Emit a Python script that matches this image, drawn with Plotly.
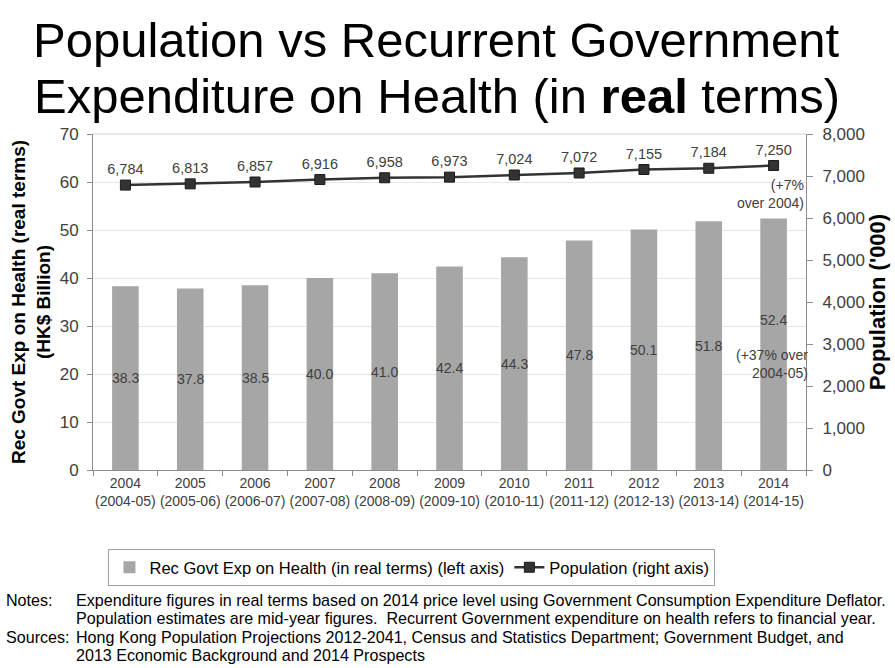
import plotly.graph_objects as go

# Data
years = ["2004", "2005", "2006", "2007", "2008", "2009", "2010", "2011", "2012", "2013", "2014"]
fiscal_years = ["2004-05", "2005-06", "2006-07", "2007-08", "2008-09", "2009-10",
                "2010-11", "2011-12", "2012-13", "2013-14", "2014-15"]
expenditure = [38.3, 37.8, 38.5, 40.0, 41.0, 42.4, 44.3, 47.8, 50.1, 51.8, 52.4]
population = [6784, 6813, 6857, 6916, 6958, 6973, 7024, 7072, 7155, 7184, 7250]

categories = [f"{y}<br>({f})" for y, f in zip(years, fiscal_years)]

W, H = 895, 668
L, R, T, B = 93, 80, 134, 198
PW, PH = W - L - R, H - T - B


def px(x):
    return (x - L) / PW


def py(y):
    return (H - B - y) / PH


FONT = "Liberation Sans, Arial, sans-serif"
TXT = "#404040"

fig = go.Figure()

fig.add_trace(go.Bar(
    x=categories, y=expenditure,
    name="Rec Govt Exp on Health (in real terms) (left axis)",
    marker=dict(color="#a6a6a6", line=dict(width=0)),
    width=0.41,
    yaxis="y",
))

fig.add_trace(go.Scatter(
    x=categories, y=population,
    name="Population (right axis)",
    mode="lines+markers+text",
    line=dict(color="#333333", width=2.5),
    marker=dict(symbol="square", size=10, color="#333333",
                line=dict(color="#1a1a1a", width=1)),
    text=[f"{v:,}" for v in population],
    textposition="top center",
    textfont=dict(size=14.5, color=TXT, family=FONT),
    yaxis="y2",
))

annotations = []

# Bar value labels, centred within each bar
for i, (c, v) in enumerate(zip(categories, expenditure)):
    shift = 24 if i == len(categories) - 1 else 0
    annotations.append(dict(x=c, y=v / 2, xref="x", yref="y", text=f"{v:.1f}",
                            showarrow=False, yshift=shift,
                            font=dict(size=14, color=TXT, family=FONT)))

# Growth notes beside the final points
annotations.append(dict(x=px(819), y=py(364), xref="paper", yref="paper",
                        text="(+37% over<br>2004-05)", showarrow=False,
                        xanchor="right", yanchor="middle", align="right",
                        font=dict(size=14, color=TXT, family=FONT)))
annotations.append(dict(x=px(815), y=py(194), xref="paper", yref="paper",
                        text="(+7%<br>over 2004)", showarrow=False,
                        xanchor="right", yanchor="middle", align="right",
                        font=dict(size=14, color=TXT, family=FONT)))

# Title lines
annotations.append(dict(x=px(441), xref="paper", y=py(40), yref="paper",
                        text="Population vs Recurrent Government", showarrow=False,
                        xanchor="center", yanchor="middle",
                        font=dict(size=49, color="#000000", family=FONT)))
annotations.append(dict(x=px(441), xref="paper", y=py(96), yref="paper",
                        text="Expenditure on Health (in <b>real</b> terms)", showarrow=False,
                        xanchor="center", yanchor="middle",
                        font=dict(size=49, color="#000000", family=FONT)))

# Notes and sources
note_font = dict(size=16.1, color="#000000", family=FONT)
notes = [
    (600, "Notes:", "Expenditure figures in real terms based on 2014 price level using Government Consumption Expenditure Deflator."),
    (618, "", "Population estimates are mid-year figures.  Recurrent Government expenditure on health refers to financial year."),
    (637, "Sources:", "Hong Kong Population Projections 2012-2041, Census and Statistics Department; Government Budget, and"),
    (655, "", "2013 Economic Background and 2014 Prospects"),
]
for yy, lab, txt in notes:
    if lab:
        annotations.append(dict(x=px(3), y=py(yy), xref="paper", yref="paper", text=lab,
                                showarrow=False, xanchor="left", yanchor="middle",
                                font=note_font))
    annotations.append(dict(x=px(74), y=py(yy), xref="paper", yref="paper", text=txt,
                            showarrow=False, xanchor="left", yanchor="middle",
                            font=note_font))

fig.update_layout(
    width=W, height=H,
    margin=dict(l=L, r=R, t=T, b=B),
    paper_bgcolor="white", plot_bgcolor="white",
    font=dict(family=FONT, color=TXT),
    showlegend=True,
    legend=dict(orientation="h", x=px(416), xanchor="center", y=py(549), yanchor="top",
                bordercolor="#a0a0a0", borderwidth=1,
                font=dict(size=16.5, color="#000000", family=FONT),
                itemwidth=30, tracegroupgap=0),
    xaxis=dict(
        type="category",
        range=[-0.5, len(categories) - 0.5],
        showline=True, linecolor="#8c8c8c", linewidth=1,
        ticks="outside", tickson="boundaries", ticklen=5, tickcolor="#8c8c8c",
        tickangle=0,
        tickfont=dict(size=14, color=TXT, family=FONT),
        showgrid=False,
    ),
    yaxis=dict(
        range=[0, 70], dtick=10,
        showline=True, linecolor="#8c8c8c", linewidth=1,
        ticks="outside", ticklen=5, tickcolor="#8c8c8c",
        ticklabelstandoff=5,
        showgrid=True, gridcolor="#e6e6e6",
        tickfont=dict(size=17, color=TXT, family=FONT),
        title=dict(text="<b>Rec Govt Exp on Health (real terms)<br>(HK$ Billion)</b>",
                   font=dict(size=19, color="#000000", family=FONT), standoff=4),
        zeroline=False,
    ),
    yaxis2=dict(
        range=[0, 8000], dtick=1000, tickformat=",",
        overlaying="y", side="right",
        showline=True, linecolor="#8c8c8c", linewidth=1,
        ticks="outside", ticklen=6, tickcolor="#8c8c8c",
        ticklabelstandoff=6,
        showgrid=False,
        tickfont=dict(size=17, color=TXT, family=FONT),
        title=dict(text="<b>Population ('000)</b>",
                   font=dict(size=22, color="#000000", family=FONT), standoff=3),
        zeroline=False,
    ),
    annotations=annotations,
)

# Top border of the plot area
fig.add_shape(type="line", xref="paper", yref="paper", x0=0, x1=1, y0=1, y1=1,
              line=dict(color="#d0d0d0", width=1))

fig.write_html("out.html")
